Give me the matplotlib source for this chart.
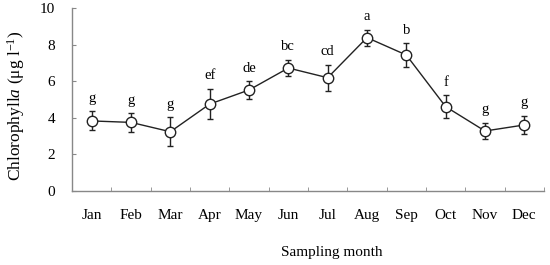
import matplotlib
matplotlib.use("Agg")
from matplotlib import pyplot as plt
from matplotlib.ticker import FixedLocator

plt.rcParams["font.family"] = ["Liberation Serif", "DejaVu Serif"]
plt.rcParams["mathtext.fontset"] = "custom"
plt.rcParams["mathtext.rm"] = "Liberation Serif"
plt.rcParams["mathtext.it"] = "Liberation Serif:italic"

months = ["Jan", "Feb", "Mar", "Apr", "May", "Jun",
          "Jul", "Aug", "Sep", "Oct", "Nov", "Dec"]
chla = [3.83, 3.75, 3.24, 4.75, 5.52, 6.72, 6.19, 8.38, 7.43, 4.61, 3.28, 3.61]
chla_err = [0.52, 0.50, 0.78, 0.82, 0.47, 0.43, 0.70, 0.44, 0.63, 0.62, 0.43, 0.48]
letters = ["g", "g", "g", "ef", "de", "bc", "cd", "a", "b", "f", "g", "g"]

fig = plt.figure(figsize=(5.5, 2.65), dpi=100)
ax = fig.add_axes([0.131, 0.279, 0.858, 0.691])

x = list(range(1, len(months) + 1))
ax.errorbar(x, chla, yerr=chla_err, color="#222222", lw=1.0,
            marker="o", markersize=7.5, markerfacecolor="white",
            markeredgecolor="#222222", markeredgewidth=1.0,
            ecolor="#222222", elinewidth=1.0, capsize=2.5, capthick=1.0,
            zorder=3)

# significance letters above each error bar
for xi, yi, ei, lab in zip(x, chla, chla_err, letters):
    ax.annotate(lab, (xi, yi + ei), xytext=(0, 7), textcoords="offset points",
                ha="center", va="baseline", fontsize=10.5)

ax.set_xlim(0.5, len(months) + 0.5)
ax.set_ylim(0, 10)
ax.set_yticks([0, 2, 4, 6, 8, 10])
ax.set_xticks(x)
ax.set_xticklabels(months)
ax.xaxis.set_minor_locator(FixedLocator([i + 0.5 for i in range(0, len(months) + 1)]))

ax.tick_params(axis="x", which="major", length=0, pad=13, labelsize=11)
ax.tick_params(axis="x", which="minor", direction="in", length=3, color="#888888")
ax.tick_params(axis="y", direction="in", length=3, color="#888888", pad=12, labelsize=11)

for side in ["top", "right"]:
    ax.spines[side].set_visible(False)
for side in ["left", "bottom"]:
    ax.spines[side].set_color("#888888")
    ax.spines[side].set_linewidth(1.0)

# label positions as in the original figure (slightly off-centre)
ax.text(-0.118, 0.464, r"Chlorophyll$\it{a}$ ($\mathrm{\mu}$g l$^{-1}$)",
        transform=ax.transAxes, rotation=90, ha="center", va="center", fontsize=12.5)
ax.text(0.551, -0.335, "Sampling month", transform=ax.transAxes,
        ha="center", va="center", fontsize=11)

fig.savefig("out.png", dpi=100)
